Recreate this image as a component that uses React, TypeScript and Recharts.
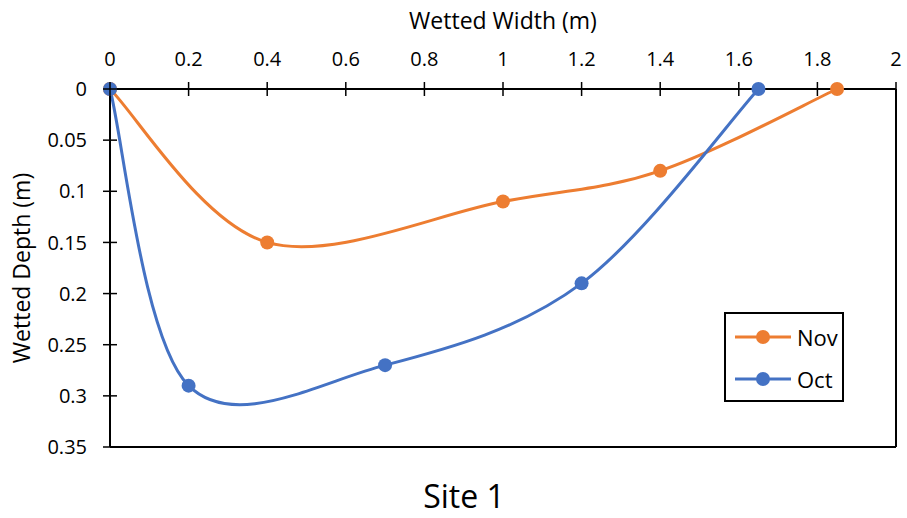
import React from 'react';
import { LineChart, Line, XAxis, YAxis, Legend, ReferenceLine, Label } from 'recharts';

const novX = [0, 0.4, 1, 1.4, 1.85];
const novDepth = [0, 0.15, 0.11, 0.08, 0];
const octX = [0, 0.2, 0.7, 1.2, 1.65];
const octDepth = [0, 0.29, 0.27, 0.19, 0];
const xTicks = [0, 0.2, 0.4, 0.6, 0.8, 1, 1.2, 1.4, 1.6, 1.8, 2];
const yTicks = [0, 0.05, 0.1, 0.15, 0.2, 0.25, 0.3, 0.35];

const novData = novX.map((x, i) => ({ x, depth: novDepth[i] }));
const octData = octX.map((x, i) => ({ x, depth: octDepth[i] }));

const ORANGE = '#ED7D31';
const BLUE = '#4472C4';
const FONT = '"Open Sans", sans-serif';

// Catmull-Rom style smoothing similar to Excel's smoothed lines
function smoothCurve(context: any) {
  let pts: number[][] = [];
  return {
    areaStart() {},
    areaEnd() {},
    lineStart() {
      pts = [];
    },
    lineEnd() {
      const n = pts.length;
      if (n === 0) return;
      context.moveTo(pts[0][0], pts[0][1]);
      for (let i = 0; i < n - 1; i++) {
        const p0 = pts[i - 1] || pts[i];
        const p1 = pts[i];
        const p2 = pts[i + 1];
        const p3 = pts[i + 2] || pts[i + 1];
        const c1x = p1[0] + (p2[0] - p0[0]) / 6;
        const c1y = p1[1] + (p2[1] - p0[1]) / 6;
        const c2x = p2[0] - (p3[0] - p1[0]) / 6;
        const c2y = p2[1] - (p3[1] - p1[1]) / 6;
        context.bezierCurveTo(c1x, c1y, c2x, c2y, p2[0], p2[1]);
      }
    },
    point(x: number, y: number) {
      pts.push([+x, +y]);
    },
  };
}

const XTick = (props: any) => {
  const { x, y, payload } = props;
  return (
    <g>
      <line x1={x} x2={x} y1={y + 16} y2={y + 30} stroke="#000" strokeWidth={1.5} />
      <text x={x} y={y} textAnchor="middle" fontFamily={FONT} fontSize={20} fill="#000">
        {String(payload.value)}
      </text>
    </g>
  );
};

const YTick = (props: any) => {
  const { x, y, payload } = props;
  return (
    <g>
      <line x1={x + 16} x2={x + 30} y1={y} y2={y} stroke="#000" strokeWidth={1.5} />
      <text x={x} y={y} dy="0.36em" textAnchor="end" fontFamily={FONT} fontSize={20} fill="#000">
        {String(payload.value)}
      </text>
    </g>
  );
};

const LegendBox = (props: any) => {
  const { payload } = props;
  return (
    <div
      style={{
        width: 120,
        height: 90,
        border: '2px solid #000',
        boxSizing: 'border-box',
        background: '#fff',
        fontFamily: FONT,
        fontSize: 22,
        color: '#000',
        paddingTop: 2,
      }}
    >
      {(payload || []).map((entry: any) => (
        <div key={entry.value} style={{ display: 'flex', alignItems: 'center', height: 42, paddingLeft: 9 }}>
          <svg width={58} height={16} style={{ display: 'block' }}>
            <line x1={0} x2={56} y1={8} y2={8} stroke={entry.color} strokeWidth={3} />
            <circle cx={28} cy={8} r={7} fill={entry.color} />
          </svg>
          <span style={{ marginLeft: 4, lineHeight: 1 }}>{entry.value}</span>
        </div>
      ))}
    </div>
  );
};

export default function App() {
  return (
    <div style={{ position: 'absolute', left: 0, top: 0, width: 907, height: 518, background: '#fff' }}>
      <LineChart width={907} height={518} margin={{ top: 59, right: 11, bottom: 71, left: 10 }}>
        <XAxis
          type="number"
          dataKey="x"
          orientation="top"
          domain={[0, 2]}
          ticks={xTicks}
          interval={0}
          height={30}
          tickSize={7}
          tickMargin={16}
          tickLine={false}
          tick={<XTick />}
          axisLine={{ stroke: '#000', strokeWidth: 2 }}
        >
          <Label value="Wetted Width (m)" position="top" offset={30} fontFamily={FONT} fontSize={23} fill="#000" />
        </XAxis>
        <YAxis
          type="number"
          dataKey="depth"
          reversed
          domain={[0, 0.35]}
          ticks={yTicks}
          interval={0}
          width={100}
          tickSize={7}
          tickMargin={16}
          tickLine={false}
          tick={<YTick />}
          axisLine={{ stroke: '#000', strokeWidth: 2 }}
        >
          <Label
            value="Wetted Depth (m)"
            angle={-90}
            position="insideLeft"
            offset={12}
            fontFamily={FONT}
            fontSize={23}
            fill="#000"
            style={{ textAnchor: 'middle' }}
          />
        </YAxis>
        <ReferenceLine x={2} stroke="#000" strokeWidth={2} />
        <ReferenceLine y={0.35} stroke="#000" strokeWidth={2} />
        <Legend
          content={<LegendBox />}
          layout="horizontal"
          verticalAlign="middle"
          align="center"
          wrapperStyle={{ position: 'absolute', left: 724, top: 312, width: 120, height: 90 }}
        />
        <Line
          name="Nov"
          data={novData}
          dataKey="depth"
          type={smoothCurve as any}
          stroke={ORANGE}
          strokeWidth={3}
          dot={{ r: 7, fill: ORANGE, stroke: ORANGE, strokeWidth: 0 }}
          activeDot={false}
          isAnimationActive={false}
        />
        <Line
          name="Oct"
          data={octData}
          dataKey="depth"
          type={smoothCurve as any}
          stroke={BLUE}
          strokeWidth={3}
          dot={{ r: 7, fill: BLUE, stroke: BLUE, strokeWidth: 0 }}
          activeDot={false}
          isAnimationActive={false}
        />
      </LineChart>
      <svg width={907} height={518} style={{ position: 'absolute', left: 0, top: 0, pointerEvents: 'none' }}>
        <text x={464} y={508} textAnchor="middle" fontFamily={FONT} fontSize={32} fill="#000">
          Site 1
        </text>
      </svg>
    </div>
  );
}
